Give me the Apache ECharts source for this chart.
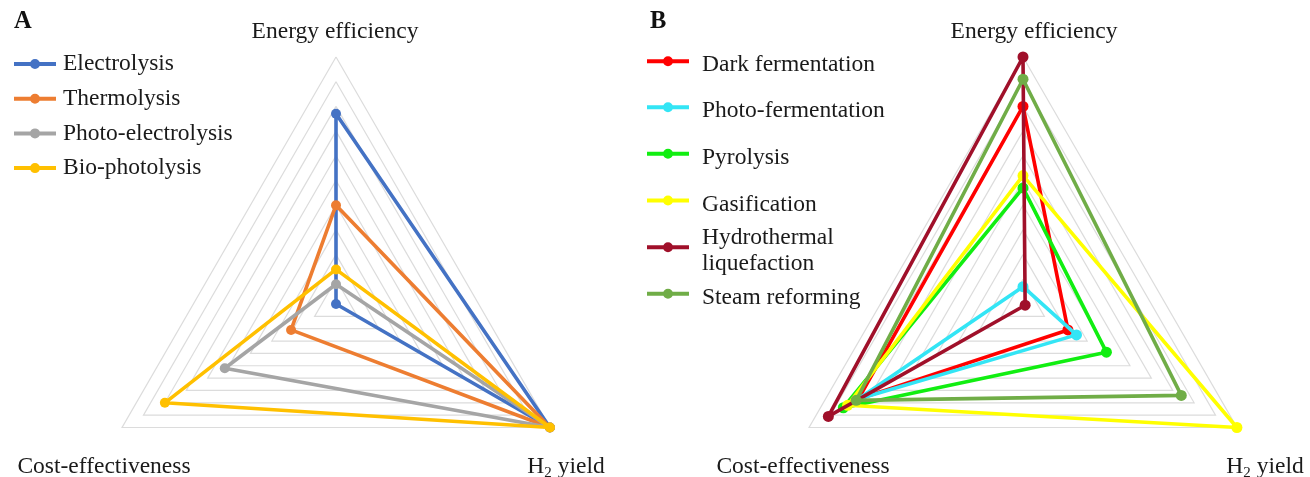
<!DOCTYPE html>
<html>
<head>
<meta charset="utf-8">
<script src="https://cdn.jsdelivr.net/npm/echarts@6/dist/echarts.min.js"></script>
<style>
html,body{margin:0;padding:0;background:#fff;}
#chart{width:1310px;height:477px;}
</style>
</head>
<body>
<div id="chart"></div>
<script>
// Indicators (ECharts places them counter-clockwise from the top)
const indicatorNames = ['Energy efficiency', 'Cost-effectiveness', 'H2 yield'];
const axisMax = 100;

// Panel A
const seriesNamesA = ['Electrolysis', 'Thermolysis', 'Photo-electrolysis', 'Bio-photolysis'];
const electrolysis      = [77, 0, 100];
const thermolysis       = [40, 21, 100];
const photoElectrolysis = [8, 52, 100];
const bioPhotolysis     = [14, 80, 100];
const valuesA = [electrolysis, thermolysis, photoElectrolysis, bioPhotolysis];
const colorsA = ['#4472C4', '#ED7D31', '#A5A5A5', '#FFC000'];

// Panel B
const seriesNamesB = ['Dark fermentation', 'Photo-fermentation', 'Pyrolysis', 'Gasification', 'Hydrothermal\nliquefaction', 'Steam reforming'];
const darkFermentation  = [80, 77, 21];
const photoFermentation = [7, 77, 25];
const pyrolysis         = [47, 84, 39];
const gasification      = [52, 82, 100];
const hydrothermal      = [100, 91, 1];
const steamReforming    = [91, 78, 74];
const valuesB = [darkFermentation, photoFermentation, pyrolysis, gasification, hydrothermal, steamReforming];
const colorsB = ['#FF0000', '#33E5F5', '#11EE11', '#FFFF00', '#A0102A', '#70AD47'];

const FONT = '"Liberation Serif", "Times New Roman", serif';
const TXT = '#1a1a1a';
const legendIcon = 'path://M0,3L16.5,3L16.5,7L0,7Z M25.5,3L42,3L42,7L25.5,7Z M16,5A5,5 0 1,1 26,5A5,5 0 1,1 16,5Z';

function radarDef(cx) {
  return {
    center: [cx, 304],
    radius: 247,
    startAngle: 90,
    splitNumber: 10,
    shape: 'polygon',
    indicator: indicatorNames.map(n => ({ name: n, min: 0, max: axisMax })),
    axisName: { show: false },
    axisLine: { show: false },
    axisTick: { show: false },
    axisLabel: { show: false },
    splitArea: { show: false },
    splitLine: { lineStyle: { color: '#DCDCDC', width: 1.2 } }
  };
}

function makeSeries(names, vals, colors, radarIndex, size) {
  return names.map((n, i) => ({
    type: 'radar',
    name: n,
    radarIndex: radarIndex,
    symbol: 'circle',
    symbolSize: size,
    z: 2 + i,
    lineStyle: { width: 3.6, color: colors[i] },
    itemStyle: { color: colors[i] },
    data: [{ value: vals[i], name: n }]
  }));
}

const legendText = { fontFamily: FONT, fontSize: 23.5, color: TXT, lineHeight: 26, padding: [0, 0, 0, 2] };

const legends = [{
  data: seriesNamesA,
  orient: 'vertical',
  left: 14, top: 51,
  padding: 0,
  itemGap: 8.7,
  itemWidth: 42, itemHeight: 10,
  icon: legendIcon,
  selectedMode: false,
  textStyle: legendText
}];
const legendCentersB = [60.7, 106.7, 153.3, 200, 246.7, 293.3];
seriesNamesB.forEach((n, i) => {
  const multi = n.indexOf('\n') >= 0;
  legends.push({
    data: [n],
    orient: 'vertical',
    left: 647,
    top: legendCentersB[i] - (multi ? 28.5 : 15.5),
    padding: 0,
    itemWidth: 42, itemHeight: 10,
    icon: legendIcon,
    selectedMode: false,
    formatter: name => '{t|' + name + '}',
    textStyle: {
      fontFamily: FONT, fontSize: 23.5, color: TXT, lineHeight: 26, padding: [0, 0, 0, 8],
      rich: { t: { fontFamily: FONT, fontSize: 23.5, color: TXT, lineHeight: 26, padding: [8, 0, 0, 0] } }
    }
  });
});

function plainText(t, x, y) {
  return { type: 'text', x: x, y: y, style: { text: t, fontFamily: FONT, fontSize: 23.5, fill: TXT, align: 'center', verticalAlign: 'middle' } };
}
function h2Text(x, y) {
  return {
    type: 'text', x: x, y: y,
    style: {
      text: '{m|H}{s|2}{m| yield}',
      fontFamily: FONT, fontSize: 23.5, fill: TXT, align: 'center', verticalAlign: 'middle',
      rich: {
        m: { fontFamily: FONT, fontSize: 23.5, lineHeight: 28, verticalAlign: 'middle', fill: TXT },
        s: { fontFamily: FONT, fontSize: 15, lineHeight: 28, verticalAlign: 'bottom', fill: TXT }
      }
    }
  };
}
function titleText(t, x, y) {
  return { type: 'text', x: x, y: y, style: { text: t, fontFamily: FONT, fontSize: 24.5, fontWeight: 'bold', fill: '#111', align: 'left', verticalAlign: 'middle' } };
}

const option = {
  animation: false,
  backgroundColor: '#fff',
  radar: [radarDef(336), radarDef(1023)],
  legend: legends,
  series: makeSeries(seriesNamesA, valuesA, colorsA, 0, 10).concat(makeSeries(seriesNamesB, valuesB, colorsB, 1, 11)),
  graphic: [
    titleText('A', 14, 21.5),
    titleText('B', 650, 21.5),
    plainText(indicatorNames[0], 335, 31.5),
    plainText(indicatorNames[1], 104, 467),
    h2Text(566, 467),
    plainText(indicatorNames[0], 1034, 31.5),
    plainText(indicatorNames[1], 803, 467),
    h2Text(1265, 467)
  ]
};

const chart = echarts.init(document.getElementById('chart'), null, { renderer: 'canvas' });
chart.setOption(option);
</script>
</body>
</html>
